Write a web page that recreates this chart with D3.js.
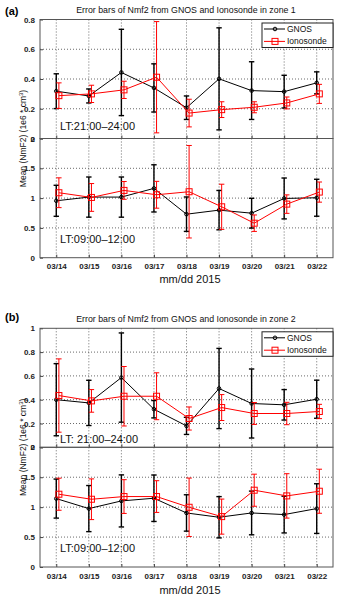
<!DOCTYPE html>
<html>
<head>
<meta charset="utf-8">
<script src="https://cdn.jsdelivr.net/npm/d3@7"></script>
<style>
  body { margin: 0; background: #fff; }
  svg { display: block; font-family: "Liberation Sans", Arial, sans-serif; }
</style>
</head>
<body>
<div id="chart"></div>
<script>
// dates on the x axis
var days = ["03/14", "03/15", "03/16", "03/17", "03/18", "03/19", "03/20", "03/21", "03/22"];

// zone 1, LT 21:00-24:00 (mean and std)
var z1NightGnos    = [0.318, 0.286, 0.444, 0.340, 0.207, 0.401, 0.322, 0.315, 0.374];
var z1NightGnosErr = [0.117, 0.047, 0.290, 0.162, 0.079, 0.343, 0.194, 0.110, 0.074];
var z1NightIono    = [0.288, 0.300, 0.327, 0.412, 0.171, 0.194, 0.210, 0.239, 0.300];
var z1NightIonoErr = [0.086, 0.058, 0.058, 0.374, 0.093, 0.053, 0.037, 0.040, 0.064];

// zone 1, LT 09:00-12:00
var z1DayGnos    = [0.955, 1.017, 1.017, 1.163, 0.730, 0.798, 0.747, 0.994, 1.006];
var z1DayGnosErr = [0.260, 0.337, 0.337, 0.396, 0.289, 0.330, 0.250, 0.343, 0.310];
var z1DayIono    = [1.090, 1.011, 1.129, 1.056, 1.107, 0.854, 0.579, 0.899, 1.101];
var z1DayIonoErr = [0.250, 0.233, 0.149, 0.225, 0.776, 0.379, 0.138, 0.155, 0.169];

// zone 2, LT 21:00-24:00
var z2NightGnos    = [0.400, 0.373, 0.586, 0.320, 0.180, 0.494, 0.368, 0.357, 0.404];
var z2NightGnosErr = [0.303, 0.190, 0.375, 0.073, 0.072, 0.337, 0.290, 0.128, 0.160];
var z2NightIono    = [0.435, 0.390, 0.429, 0.429, 0.242, 0.334, 0.284, 0.284, 0.301];
var z2NightIonoErr = [0.308, 0.095, 0.250, 0.197, 0.097, 0.109, 0.092, 0.094, 0.060];

// zone 2, LT 09:00-12:00
var z2DayGnos    = [1.143, 0.976, 1.104, 1.149, 0.903, 0.831, 0.903, 0.876, 0.976];
var z2DayGnosErr = [0.326, 0.385, 0.435, 0.388, 0.304, 0.345, 0.365, 0.307, 0.415];
var z2DayIono    = [1.216, 1.132, 1.177, 1.177, 0.998, 0.842, 1.283, 1.188, 1.266];
var z2DayIonoErr = [0.268, 0.340, 0.282, 0.265, 0.488, 0.293, 0.268, 0.371, 0.368];

var nightTicks = [0, 0.2, 0.4, 0.6, 0.8];
var nightTicks2 = [0, 0.2, 0.4, 0.6, 0.8, 1];
var dayTicks = [0, 0.5, 1, 1.5, 2];

var W = 339, H = 600;
var svg = d3.select("#chart").append("svg").attr("width", W).attr("height", H);

var x = d3.scaleLinear().domain([-0.5, 8.5]).range([40, 333]);
var ionoShift = 0.08;

function drawSub(top, bottom, ymax, ticks, gnos, gnosErr, iono, ionoErr, showX, ltText, ltY) {
    var y = d3.scaleLinear().domain([0, ymax]).range([bottom, top]);
    var g = svg.append("g");

    // grid
    g.selectAll(".vgrid").data(days).enter().append("line")
        .attr("x1", function (d, i) { return x(i); })
        .attr("x2", function (d, i) { return x(i); })
        .attr("y1", top).attr("y2", bottom)
        .attr("stroke", "#444").attr("stroke-width", 0.8)
        .attr("stroke-dasharray", "1,2");
    g.selectAll(".hgrid").data(ticks.slice(1, -1)).enter().append("line")
        .attr("x1", x.range()[0]).attr("x2", x.range()[1])
        .attr("y1", function (d) { return y(d); })
        .attr("y2", function (d) { return y(d); })
        .attr("stroke", "#444").attr("stroke-width", 0.8)
        .attr("stroke-dasharray", "1,2");

    // axes
    var left = g.append("g").attr("transform", "translate(" + x.range()[0] + ",0)")
        .call(d3.axisLeft(y).tickValues(ticks).tickSize(-3).tickPadding(5)
            .tickFormat(function (d) { return String(d); }));
    left.select(".domain").remove();
    left.selectAll("line").attr("stroke", "#444");
    left.selectAll("text").attr("font-size", 8).attr("font-weight", "bold").attr("fill", "#222")
        .attr("font-family", "Liberation Sans, Arial, sans-serif");

    var bot = g.append("g").attr("transform", "translate(0," + bottom + ")")
        .call(d3.axisBottom(x).tickValues(d3.range(days.length)).tickSize(-3).tickPadding(6)
            .tickFormat(function (d) { return showX ? days[d] : ""; }));
    bot.select(".domain").remove();
    bot.selectAll("line").attr("stroke", "#444");
    bot.selectAll("text").attr("font-size", 8).attr("font-weight", "bold").attr("fill", "#222")
        .attr("font-family", "Liberation Sans, Arial, sans-serif");

    g.append("rect")
        .attr("x", x.range()[0]).attr("y", top)
        .attr("width", x.range()[1] - x.range()[0]).attr("height", bottom - top)
        .attr("fill", "none").attr("stroke", "#555").attr("stroke-width", 1);

    function series(vals, errs, shift, color, sw) {
        var line = d3.line()
            .x(function (d, i) { return x(i + shift); })
            .y(function (d) { return y(d); });
        g.append("path").datum(vals).attr("d", line)
            .attr("fill", "none").attr("stroke", color).attr("stroke-width", 1);
        var eb = g.selectAll(null).data(vals).enter().append("g");
        eb.append("line")
            .attr("x1", function (d, i) { return x(i + shift); })
            .attr("x2", function (d, i) { return x(i + shift); })
            .attr("y1", function (d, i) { return y(d - errs[i]); })
            .attr("y2", function (d, i) { return y(d + errs[i]); })
            .attr("stroke", color).attr("stroke-width", sw);
        [-1, 1].forEach(function (s) {
            eb.append("line")
                .attr("x1", function (d, i) { return x(i + shift) - 2.7; })
                .attr("x2", function (d, i) { return x(i + shift) + 2.7; })
                .attr("y1", function (d, i) { return y(d + s * errs[i]); })
                .attr("y2", function (d, i) { return y(d + s * errs[i]); })
                .attr("stroke", color).attr("stroke-width", sw);
        });
        return eb;
    }

    var gb = series(gnos, gnosErr, 0, "#000", 1.4);
    gb.append("circle")
        .attr("cx", function (d, i) { return x(i); })
        .attr("cy", function (d) { return y(d); })
        .attr("r", 1.8).attr("fill", "none").attr("stroke", "#000").attr("stroke-width", 1);

    var ib = series(iono, ionoErr, ionoShift, "#ff0000", 1);
    ib.append("rect")
        .attr("x", function (d, i) { return x(i + ionoShift) - 3; })
        .attr("y", function (d) { return y(d) - 3; })
        .attr("width", 6).attr("height", 6)
        .attr("fill", "none").attr("stroke", "#ff0000").attr("stroke-width", 1);

    svg.append("text").attr("x", 60).attr("y", ltY)
        .attr("font-size", 11).attr("fill", "#111").text(ltText);
}

function legend(top) {
    var lg = svg.append("g");
    lg.append("rect").attr("x", 262).attr("y", top).attr("width", 71).attr("height", 24.5)
        .attr("fill", "#fff").attr("stroke", "#222").attr("stroke-width", 1);
    var items = [
        { name: "GNOS", color: "#000" },
        { name: "Ionosonde", color: "#ff0000" }
    ];
    items.forEach(function (it, k) {
        var yy = top + 6 + k * 12.4;
        lg.append("line").attr("x1", 264).attr("x2", 285).attr("y1", yy).attr("y2", yy)
            .attr("stroke", it.color).attr("stroke-width", 1);
        if (k === 0) {
            lg.append("circle").attr("cx", 275).attr("cy", yy).attr("r", 1.8)
                .attr("fill", "none").attr("stroke", it.color);
        } else {
            lg.append("rect").attr("x", 272).attr("y", yy - 3).attr("width", 6).attr("height", 6)
                .attr("fill", "none").attr("stroke", it.color);
        }
        lg.append("text").attr("x", 287).attr("y", yy + 3).attr("font-size", 8.5)
            .attr("fill", "#111").text(it.name);
    });
}

function panel(opt) {
    svg.append("text").attr("x", 5).attr("y", opt.labelY)
        .attr("font-size", 11).attr("font-weight", "bold").text(opt.label);
    svg.append("text").attr("x", 186).attr("y", opt.titleY).attr("text-anchor", "middle")
        .attr("font-size", 8.8).attr("fill", "#111").text(opt.title);

    drawSub(opt.top, opt.mid, opt.nightMax, opt.nightTicks, opt.d[0], opt.d[1], opt.d[2], opt.d[3],
        false, opt.ltNight, opt.ltNightY);
    drawSub(opt.mid, opt.bottom, 2, dayTicks, opt.d[4], opt.d[5], opt.d[6], opt.d[7],
        true, "LT:09:00\u201312:00", opt.ltDayY);
    legend(opt.top + 3.5);

    var yl = svg.append("text")
        .attr("transform", "translate(26," + opt.mid + ") rotate(-90)")
        .attr("text-anchor", "middle").attr("font-size", 8.5).attr("fill", "#111");
    yl.append("tspan").text("Mean (NmF2) (1e6 * cm");
    yl.append("tspan").attr("dy", -3).attr("font-size", 6).text("3");
    yl.append("tspan").attr("dy", 3).text(")");

    svg.append("text").attr("x", 190).attr("y", opt.xlabY).attr("text-anchor", "middle")
        .attr("font-size", 11).attr("fill", "#111").text("mm/dd 2015");
}

panel({
    label: "(a)", labelY: 15, title: "Error bars of Nmf2 from GNOS and Ionosonde in zone 1", titleY: 12.5,
    top: 19.5, mid: 138.5, bottom: 257.7, nightMax: 0.8, nightTicks: nightTicks,
    d: [z1NightGnos, z1NightGnosErr, z1NightIono, z1NightIonoErr, z1DayGnos, z1DayGnosErr, z1DayIono, z1DayIonoErr],
    ltNight: "LT:21:00\u201324:00", ltNightY: 130, ltDayY: 243, xlabY: 283
});

panel({
    label: "(b)", labelY: 321, title: "Error bars of Nmf2 from GNOS and Ionosonde in zone 2", titleY: 322,
    top: 328.3, mid: 447.3, bottom: 567, nightMax: 1, nightTicks: nightTicks2,
    d: [z2NightGnos, z2NightGnosErr, z2NightIono, z2NightIonoErr, z2DayGnos, z2DayGnosErr, z2DayIono, z2DayIonoErr],
    ltNight: "LT: 21:00\u201324:00", ltNightY: 443, ltDayY: 552, xlabY: 594
});
</script>
</body>
</html>
